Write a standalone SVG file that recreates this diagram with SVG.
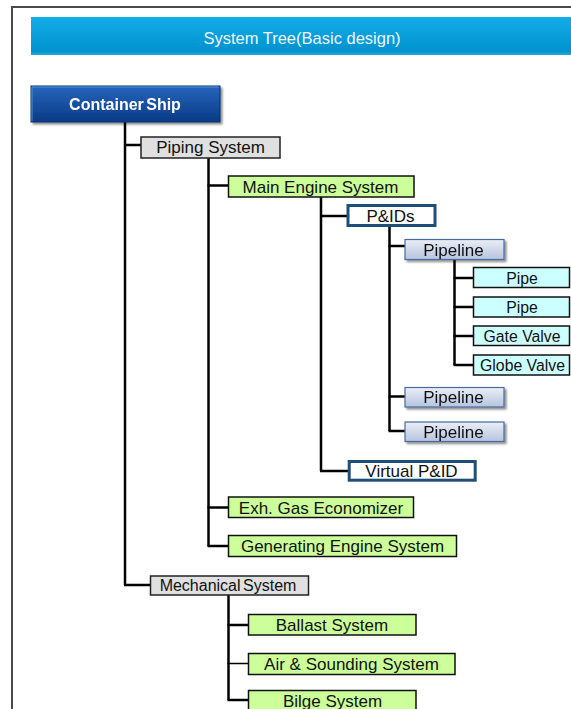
<svg xmlns="http://www.w3.org/2000/svg" width="571" height="709" viewBox="0 0 571 709">
  <defs>
    <linearGradient id="gHeader" x1="0" y1="0" x2="0" y2="1">
      <stop offset="0" stop-color="#14ade6"/>
      <stop offset="0.9" stop-color="#0092cf"/>
      <stop offset="1" stop-color="#2aa8da"/>
    </linearGradient>
    <linearGradient id="gRoot" x1="0" y1="0" x2="0" y2="1">
      <stop offset="0" stop-color="#2466bd"/>
      <stop offset="1" stop-color="#0b3a84"/>
    </linearGradient>
    <linearGradient id="gPipeline" x1="0" y1="0" x2="0" y2="1">
      <stop offset="0" stop-color="#eaeef7"/>
      <stop offset="1" stop-color="#b6c4de"/>
    </linearGradient>
    <filter id="shadow" x="-10%" y="-20%" width="125%" height="150%">
      <feGaussianBlur in="SourceAlpha" stdDeviation="1.2"/>
      <feOffset dx="1.5" dy="1.5" result="b"/>
      <feComponentTransfer><feFuncA type="linear" slope="0.45"/></feComponentTransfer>
      <feMerge><feMergeNode/><feMergeNode in="SourceGraphic"/></feMerge>
    </filter>
  </defs>
  <style>
    text { font-family: "Liberation Sans", Arial, sans-serif; text-anchor: middle; fill: #111; }
    .gray { fill: #e0e0e0; stroke: #222; stroke-width: 1.5; }
    .green { fill: #ccff99; stroke: #111; stroke-width: 1.5; }
    .cyan { fill: #ccffff; stroke: #111; stroke-width: 1.5; }
    .doc { fill: #ffffff; stroke: #1f4e79; stroke-width: 3; }
    .pl { fill: url(#gPipeline); stroke: #4a6a9c; stroke-width: 1.2; }
    .t { font-size: 17px; }
    .ts { font-size: 15.8px; }
    .links line { stroke: #000; stroke-width: 2.5; }
  </style>

  <!-- page frame -->
  <rect x="12" y="7" width="600" height="720" fill="#ffffff" stroke="#4a4a4a" stroke-width="2"/>

  <!-- title banner -->
  <g id="header">
    <rect x="31" y="17" width="560" height="38" fill="url(#gHeader)"/>
    <text x="302" y="43.5" style="font-size:16.5px;fill:#eef8fd">System Tree(Basic design)</text>
  </g>

  <!-- connectors -->
  <g class="links">
    <line x1="125" y1="122" x2="125" y2="585"/>
    <line x1="124" y1="145" x2="141" y2="145"/>
    <line x1="124" y1="585" x2="150.5" y2="585"/>

    <line x1="208.5" y1="158" x2="208.5" y2="546"/>
    <line x1="207.5" y1="185.5" x2="228.5" y2="185.5"/>
    <line x1="207.5" y1="507.5" x2="228.5" y2="507.5"/>
    <line x1="207.5" y1="546" x2="228.5" y2="546"/>

    <line x1="321" y1="197" x2="321" y2="471"/>
    <line x1="320" y1="216" x2="347" y2="216"/>
    <line x1="320" y1="471" x2="348" y2="471"/>

    <line x1="389.5" y1="227" x2="389.5" y2="431"/>
    <line x1="388.5" y1="246" x2="405" y2="246"/>
    <line x1="388.5" y1="396.5" x2="405" y2="396.5"/>
    <line x1="388.5" y1="431" x2="405" y2="431"/>

    <line x1="454.5" y1="259.5" x2="454.5" y2="365"/>
    <line x1="453.5" y1="278" x2="473.5" y2="278"/>
    <line x1="453.5" y1="307" x2="473.5" y2="307"/>
    <line x1="453.5" y1="336" x2="473.5" y2="336"/>
    <line x1="453.5" y1="365" x2="473.5" y2="365"/>

    <line x1="228.5" y1="595" x2="228.5" y2="700"/>
    <line x1="227.5" y1="625" x2="248.5" y2="625"/>
    <line x1="227.5" y1="663.5" x2="248.5" y2="663.5" style="stroke-width:1.5"/>
    <line x1="227.5" y1="700" x2="248.5" y2="700"/>
  </g>

  <!-- root -->
  <g id="container-ship" filter="url(#shadow)">
    <rect x="31" y="86" width="189" height="36" fill="url(#gRoot)" stroke="#0a3070" stroke-width="1"/>
    <path d="M32 121 V87 H219" fill="none" stroke="#5a8ed6" stroke-width="1"/>
    <text x="125" y="110" style="font-size:16px;font-weight:bold;fill:#ffffff;word-spacing:-2px">Container Ship</text>
  </g>

  <g id="piping-system">
    <rect class="gray" x="141" y="137" width="139" height="21"/>
    <text class="t" x="210.5" y="153">Piping System</text>
  </g>

  <g id="main-engine-system">
    <rect class="green" x="228.5" y="176" width="185.5" height="21"/>
    <text class="t" x="320.5" y="192.5">Main Engine System</text>
  </g>

  <g id="pids">
    <rect class="doc" x="348" y="205.5" width="87" height="20"/>
    <text class="t" x="390.5" y="221.5">P&amp;IDs</text>
  </g>

  <g id="pipeline-1" filter="url(#shadow)">
    <rect class="pl" x="405" y="239.5" width="99" height="20"/>
    <text class="t" x="453.5" y="255.5">Pipeline</text>
  </g>

  <g id="pipe-1">
    <rect class="cyan" x="473.5" y="267.5" width="96" height="20"/>
    <text class="ts" x="522" y="284">Pipe</text>
  </g>
  <g id="pipe-2">
    <rect class="cyan" x="473.5" y="297" width="96" height="20"/>
    <text class="ts" x="522" y="313">Pipe</text>
  </g>
  <g id="gate-valve">
    <rect class="cyan" x="473.5" y="326" width="96" height="19.5"/>
    <text class="ts" x="522" y="341.5">Gate Valve</text>
  </g>
  <g id="globe-valve">
    <rect class="cyan" x="473.5" y="355" width="96" height="20"/>
    <text class="ts" x="522.5" y="370.5">Globe Valve</text>
  </g>

  <g id="pipeline-2" filter="url(#shadow)">
    <rect class="pl" x="405" y="387.5" width="99" height="19.5"/>
    <text class="t" x="453.5" y="402.5">Pipeline</text>
  </g>
  <g id="pipeline-3" filter="url(#shadow)">
    <rect class="pl" x="405" y="422" width="99" height="19.5"/>
    <text class="t" x="453.5" y="437.5">Pipeline</text>
  </g>

  <g id="virtual-pid">
    <rect class="doc" x="349.2" y="461.5" width="126" height="18.7"/>
    <text class="t" x="411.5" y="476.5">Virtual P&amp;ID</text>
  </g>

  <g id="exh-gas-economizer">
    <rect class="green" x="228.5" y="497" width="185" height="20.5"/>
    <text class="t" x="321" y="513.5">Exh. Gas Economizer</text>
  </g>

  <g id="generating-engine-system">
    <rect class="green" x="228.5" y="535.5" width="228" height="21"/>
    <text class="t" x="342.5" y="551.5">Generating Engine System</text>
  </g>

  <g id="mechanical-system">
    <rect class="gray" x="150.5" y="576" width="158" height="19"/>
    <text x="228" y="590.5" style="font-size:16px;word-spacing:-2px">Mechanical System</text>
  </g>

  <g id="ballast-system">
    <rect class="green" x="248.5" y="614.5" width="167.5" height="20.5"/>
    <text class="t" x="332" y="631">Ballast System</text>
  </g>

  <g id="air-sounding-system">
    <rect class="green" x="248.5" y="653.5" width="206.5" height="21"/>
    <text class="t" x="351.5" y="670">Air &amp; Sounding System</text>
  </g>

  <g id="bilge-system">
    <rect class="green" x="248.5" y="690.5" width="167.5" height="22"/>
    <text class="t" x="332.5" y="706.5">Bilge System</text>
  </g>
</svg>
